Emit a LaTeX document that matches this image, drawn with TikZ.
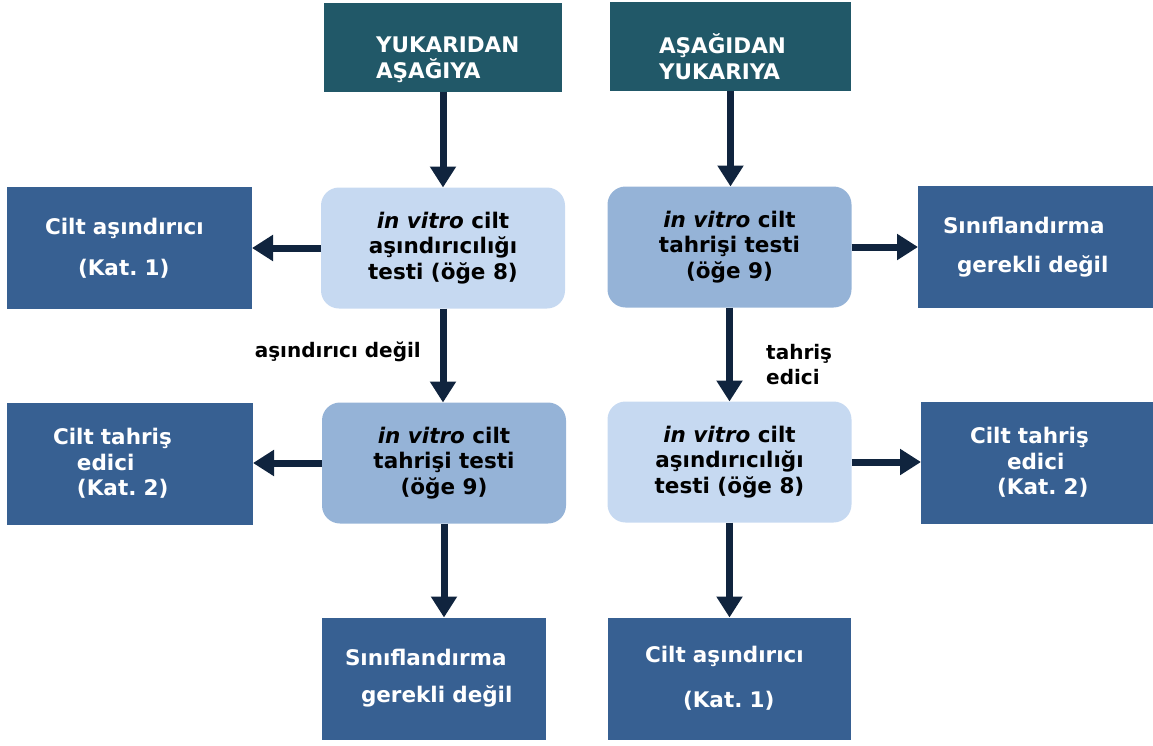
\documentclass[tikz,border=0pt]{standalone}
\usepackage{fontspec}
\setmainfont{DejaVu Sans}
\usetikzlibrary{arrows.meta, positioning}
\definecolor{HD}{HTML}{215868}
\definecolor{RB}{HTML}{376092}
\definecolor{TL}{HTML}{C6D9F1}
\definecolor{TM}{HTML}{95B3D7}
\definecolor{AR}{HTML}{10243E}
\newcommand{\lpad}[1]{\hspace*{#1pt}}

\begin{document}
\begin{tikzpicture}[x=1pt, y=-1pt,
  base/.style={inner sep=0pt, outer sep=0pt,
               font=\bfseries\fontsize{21.5}{25.5}\selectfont},
  header/.style={base, fill=HD, text=white, align=left,
                 text width=#1, minimum height=89pt},
  test/.style={base, rounded corners=18pt, align=center,
               minimum width=244pt, minimum height=121pt},
  result/.style={base, fill=RB, text=white, align=left,
                 text width=#1, minimum height=122pt},
  flow/.style={draw=AR, line width=7pt, -{Triangle[length=21pt,width=25pt]}},
  cond/.style={font=\bfseries\fontsize{20}{25}\selectfont, align=left, inner sep=0pt}
]
\useasboundingbox (0,0) rectangle (1153,745);

% starting points
\node[header=238pt] (hL) at (443,47) {\rule{0pt}{41pt}\lpad{52}YUKARIDAN\\\lpad{52}AŞAĞIYA};
\node[header=241pt] (hR) at (730.5,46) {\rule{0pt}{41pt}\lpad{49}AŞAĞIDAN\\\lpad{49}YUKARIYA};

% tests
\node[test, fill=TL] (tL1) at (443,248)   {\textit{in vitro} cilt\\aşındırıcılığı\\testi (öğe 8)};
\node[test, fill=TM] (tR1) at (729.5,247) {\textit{in vitro} cilt\\tahrişi testi\\(öğe 9)};
\node[test, fill=TM] (tL2) at (444,463)   {\textit{in vitro} cilt\\tahrişi testi\\(öğe 9)};
\node[test, fill=TL] (tR2) at (729.5,462) {\textit{in vitro} cilt\\aşındırıcılığı\\testi (öğe 8)};

% outcomes
\node[result=245pt] (rL1) at (129.5,248)  {\lpad{38}Cilt aşındırıcı\\[15.5pt]\lpad{71}(Kat.\ 1)};
\node[result=235pt] (rR1) at (1035.5,247) {\lpad{25}Sınıflandırma\\[13.5pt]\lpad{39}gerekli değil};
\node[result=246pt] (rL2) at (130,463.5)  {\lpad{46}Cilt tahriş\\\lpad{70}edici\\\lpad{70}(Kat.\ 2)};
\node[result=232pt] (rR2) at (1037,462.5) {\lpad{49}Cilt tahriş\\\lpad{86}edici\\\lpad{76}(Kat.\ 2)};
\node[result=224pt] (bL)  at (434,678.5)  {\lpad{23}Sınıflandırma\\[11.5pt]\lpad{39}gerekli değil};
\node[result=243pt] (bR)  at (729.5,678.5) {\lpad{37}Cilt aşındırıcı\\[19.5pt]\lpad{75}(Kat.\ 1)};

% branch labels
\node[cond, anchor=east] (lblL) at (421,352) {aşındırıcı değil};
\node[cond, anchor=west] (lblR) at (766,365) {tahriş\\edici};

% arrows
\draw[flow] (hL.south) -- (hL.south |- tL1.north);
\draw[flow] (hR.south) -- (hR.south |- tR1.north);
\draw[flow] (tL1.west) -- (tL1.west -| rL1.east);
\draw[flow] (tR1.east) -- (tR1.east -| rR1.west);
\draw[flow] (tL1.south) -- (tL1.south |- tL2.north);
\draw[flow] (tR1.south) -- (tR1.south |- tR2.north);
\draw[flow] (tL2.west) -- (tL2.west -| rL2.east);
\draw[flow] (tR2.east) -- (tR2.east -| rR2.west);
\draw[flow] (tL2.south) -- (tL2.south |- bL.north);
\draw[flow] (tR2.south) -- (tR2.south |- bR.north);
\end{tikzpicture}
\end{document}
